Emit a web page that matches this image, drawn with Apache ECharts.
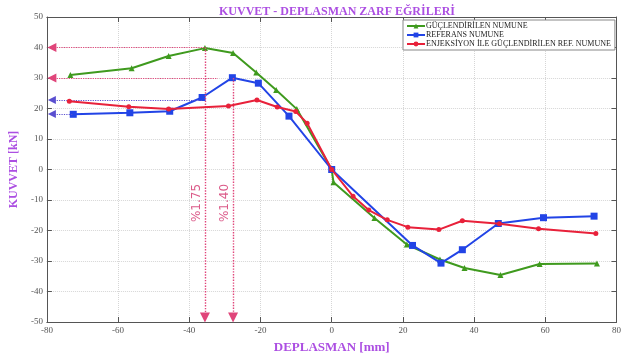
<!DOCTYPE html>
<html><head><meta charset="utf-8">
<script src="https://cdn.jsdelivr.net/npm/echarts@6/dist/echarts.min.js"></script>
<style>html,body{margin:0;padding:0;background:#fff}#c{width:624px;height:359px}</style>
</head><body><div id="c"></div>
<script>
var names = ['GÜÇLENDİRİLEN NUMUNE','REFERANS NUMUNE','ENJEKSİYON İLE GÜÇLENDİRİLEN REF. NUMUNE'];
var greenX = [-73.4,-56.2,-45.8,-35.6,-27.7,-21.2,-15.6,-9.8,0,0.5,12,21.1,30.4,37.3,47.4,58.4,74.5];
var greenY = [31.0,33.2,37.2,39.8,38.2,31.8,26.1,19.8,0,-4.2,-15.9,-24.6,-29.5,-32.3,-34.6,-31.0,-30.8];
var blueX = [-72.6,-56.7,-45.5,-36.4,-27.9,-20.6,-12.0,0,22.7,30.7,36.7,46.8,59.5,73.7];
var blueY = [18.1,18.6,19.1,23.6,30.1,28.3,17.5,0,-24.9,-30.7,-26.3,-17.7,-15.8,-15.3];
var redX = [-73.7,-57.0,-45.8,-29.0,-21.0,-15.3,-10.1,-6.9,0,6.0,10.4,15.6,21.4,30.1,36.7,47.1,58.1,74.2];
var redY = [22.4,20.6,19.8,20.8,22.8,20.5,19.0,15.2,0,-8.8,-13.3,-16.5,-18.9,-19.7,-16.8,-17.8,-19.4,-21.0];
var xTicks = [-80,-60,-40,-20,0,20,40,60,80];
var yTicks = [-50,-40,-30,-20,-10,0,10,20,30,40,50];
var dispX = [-35.6,-27.7];
var dispLabels = ['%1.75','%1.40'];
var peakLoads = [40,30];
var refLoads = [22.8,18.2];

function zip(a,b){return a.map(function(v,i){return [v,b[i]];});}
var serif = 'Liberation Serif';
var chart = echarts.init(document.getElementById('c'), null, {renderer:'canvas'});
var gridC = '#d6d6d6';
var axBase = {
  min:-80,max:80,interval:20,
  axisLine:{onZero:false,lineStyle:{color:'#555',width:1}},
  axisTick:{inside:true,length:5,lineStyle:{color:'#555'}},
};
var pink = '#e0457a', purp = '#5a4fd0';
var x0 = -78.6;
chart.setOption({
  animation:false,
  title:{text:'KUVVET - DEPLASMAN ZARF EĞRİLERİ',left:332,textAlign:'center',top:1,
    textStyle:{fontFamily:serif,fontSize:12,fontWeight:'bold',color:'#ac4fe2'}},
  legend:{orient:'vertical',left:403,top:20,itemGap:1,itemWidth:18,itemHeight:6,
    padding:[2,4,2,3],borderColor:'#888',borderWidth:1,backgroundColor:'#fff',
    data:names,textStyle:{fontFamily:serif,fontSize:8,color:'#222',padding:[0,0,0,-4]}},
  grid:{left:38,right:2,top:17,bottom:33},
  xAxis:[Object.assign({},axBase,{type:'value',position:'bottom',
      name:'DEPLASMAN [mm]',nameLocation:'middle',nameGap:19,
      nameTextStyle:{fontFamily:serif,fontSize:13,fontWeight:'bold',color:'#ac4fe2'},
      axisLabel:{fontFamily:serif,fontSize:9,color:'#555',margin:4,formatter:function(v){return xTicks.indexOf(v)>=0?v:'';}},
      splitLine:{show:true,lineStyle:{color:gridC,type:'dotted'}}}),
    Object.assign({},axBase,{type:'value',position:'top',axisLabel:{show:false},splitLine:{show:false}})],
  yAxis:[{type:'value',min:-50,max:50,interval:10,position:'left',
      name:'KUVVET [kN]',nameLocation:'middle',nameGap:24,
      nameTextStyle:{fontFamily:serif,fontSize:12,fontWeight:'bold',color:'#ac4fe2'},
      axisLine:{show:true,onZero:false,lineStyle:{color:'#555'}},axisTick:{show:true,inside:true,length:5,lineStyle:{color:'#555'}},
      axisLabel:{fontFamily:serif,fontSize:9,color:'#555',margin:4,formatter:function(v){return yTicks.indexOf(v)>=0?v:'';}},
      splitLine:{show:true,lineStyle:{color:gridC,type:'dotted'}}},
    {type:'value',min:-50,max:50,interval:10,position:'right',
      axisLine:{show:true,onZero:false,lineStyle:{color:'#555'}},axisTick:{show:true,inside:true,length:5,lineStyle:{color:'#555'}},
      axisLabel:{show:false},splitLine:{show:false}}],
  series:[
    {name:'ann',type:'line',data:[],silent:true,
      markLine:{silent:true,animation:false,label:{show:false},
        data:[
          [{coord:[x0,peakLoads[0]],symbol:'triangle',symbolSize:[9,9],lineStyle:{color:pink,type:'dotted',width:1.2},itemStyle:{color:'#e8213a'}},{coord:[dispX[0],peakLoads[0]],symbol:'none'}],
          [{coord:[x0,peakLoads[1]],symbol:'triangle',symbolSize:[9,9],lineStyle:{color:pink,type:'dotted',width:1.2},itemStyle:{color:'#e8213a'}},{coord:[-32,peakLoads[1]],symbol:'none'}],
          [{coord:[x0,refLoads[0]],symbol:'triangle',symbolSize:[8,8],lineStyle:{color:purp,type:'dotted',width:1.2},itemStyle:{color:purp}},{coord:[blueX[3],refLoads[0]],symbol:'none'}],
          [{coord:[x0,refLoads[1]],symbol:'triangle',symbolSize:[8,8],lineStyle:{color:purp,type:'dotted',width:1.2},itemStyle:{color:purp}},{coord:[blueX[0],refLoads[1]],symbol:'none'}],
          [{coord:[dispX[0],peakLoads[0]],symbol:'none',lineStyle:{color:pink,type:'dotted',width:1.4}},{coord:[dispX[0],-48.5],symbol:'triangle',symbolSize:10,itemStyle:{color:'#e8213a'}}],
          [{coord:[dispX[1],peakLoads[1]],symbol:'none',lineStyle:{color:pink,type:'dotted',width:1.4}},{coord:[dispX[1],-48.5],symbol:'triangle',symbolSize:10,itemStyle:{color:'#e8213a'}}]
        ]}},
    {name:'lbl',type:'scatter',symbolSize:0,silent:true,
      data:[[dispX[0]-2.4,-11],[dispX[1]-2.3,-11]],
      label:{show:true,rotate:90,position:'inside',fontFamily:'DejaVu Sans',fontSize:12,color:'#d2306a',
        formatter:function(p){return dispLabels[p.dataIndex];}}},
    {name:names[0],type:'line',data:zip(greenX,greenY),symbol:'triangle',symbolSize:6,
      lineStyle:{color:'#3f9a1e',width:2},itemStyle:{color:'#3f9a1e'},z:3},
    {name:names[1],type:'line',data:zip(blueX,blueY),symbol:'rect',symbolSize:7,
      lineStyle:{color:'#2244e6',width:2},itemStyle:{color:'#2244e6'},z:4},
    {name:names[2],type:'line',data:zip(redX,redY),symbol:'circle',symbolSize:5,
      lineStyle:{color:'#e8213a',width:2},itemStyle:{color:'#e8213a'},z:5}
  ]
});
</script></body></html>
